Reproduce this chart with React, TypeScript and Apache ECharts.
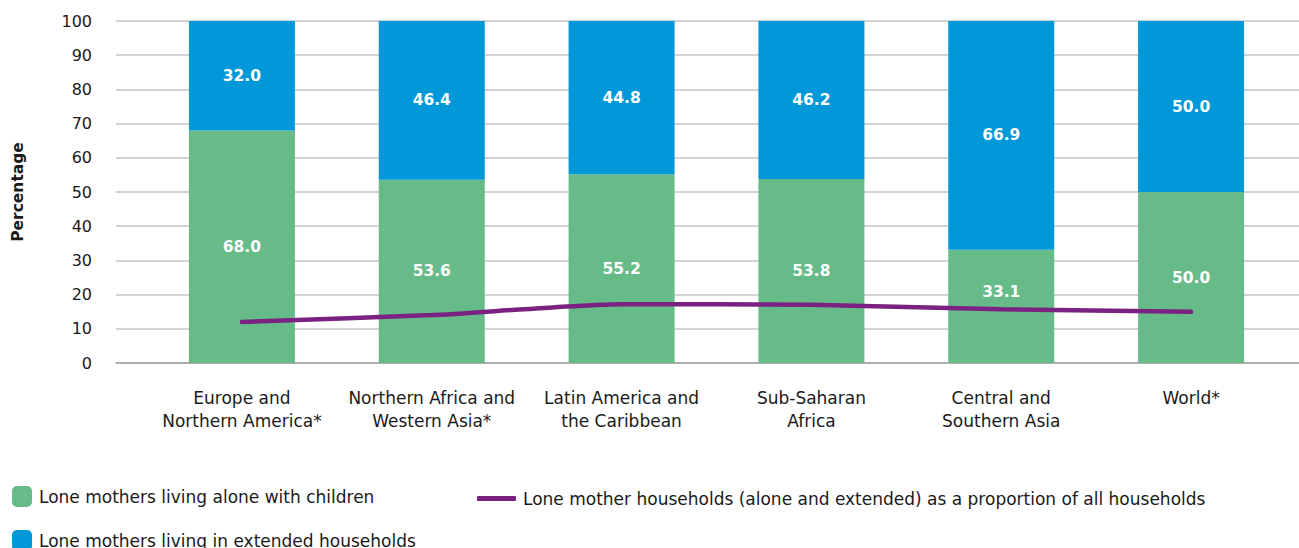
import React, { useEffect, useRef } from "react";
import * as echarts from "echarts";

const categories = [
  "Europe and\nNorthern America*",
  "Northern Africa and\nWestern Asia*",
  "Latin America and\nthe Caribbean",
  "Sub-Saharan\nAfrica",
  "Central and\nSouthern Asia",
  "World*",
];
const aloneValues = [68.0, 53.6, 55.2, 53.8, 33.1, 50.0];
const extendedValues = [32.0, 46.4, 44.8, 46.2, 66.9, 50.0];
const proportionValues = [12.0, 14.0, 17.2, 17.0, 15.7, 15.0];

const nameAlone = "Lone mothers living alone with children";
const nameExtended = "Lone mothers living in extended households";
const nameLine = "Lone mother households (alone and extended) as a proportion of all households";

const FONT = "DejaVu Sans";
const GREEN = "#67BB89";
const BLUE = "#0098D9";
const PURPLE = "#7B2182";
const TEXT = "#1a1a1a";

export default function App() {
  const ref = useRef<HTMLDivElement>(null);
  useEffect(() => {
    const chart = echarts.init(ref.current!, undefined, { renderer: "svg" });
    const labelStyle = {
      show: true,
      position: "inside",
      color: "#fff",
      fontWeight: "bold",
      fontSize: 15.5,
      fontFamily: FONT,
      formatter: (p: any) => Number(p.value).toFixed(1),
    };
    const legendText = { fontSize: 17, lineHeight: 21, color: TEXT, fontFamily: FONT };
    chart.setOption({
      animation: false,
      textStyle: { fontFamily: FONT },
      grid: [
        { left: 116, right: 0, top: 21, bottom: 185 },
        { left: 147, width: 1139, top: 21, bottom: 185 },
      ],
      xAxis: [
        {
          type: "value",
          gridIndex: 0,
          min: 0,
          max: 1,
          axisLabel: { show: false },
          axisTick: { show: false },
          splitLine: { show: false },
          axisLine: { show: true, lineStyle: { color: "#a0a0a0", width: 1.5 } },
        },
        {
          type: "category",
          gridIndex: 1,
          data: categories,
          axisLine: { show: false },
          axisTick: { show: false },
          axisLabel: {
            color: TEXT,
            fontSize: 17,
            fontFamily: FONT,
            lineHeight: 23,
            margin: 23,
            interval: 0,
          },
        },
      ],
      yAxis: [
        {
          type: "value",
          gridIndex: 0,
          min: 0,
          max: 100,
          interval: 10,
          name: "Percentage",
          nameLocation: "middle",
          nameGap: 90,
          nameTextStyle: { fontWeight: "bold", fontSize: 15.5, color: TEXT, fontFamily: FONT },
          axisLine: { show: false },
          axisTick: { show: false },
          axisLabel: { color: TEXT, fontSize: 16, fontFamily: FONT, margin: 24 },
          splitLine: { show: true, lineStyle: { color: "#c4c4c4", width: 1.5 } },
        },
        {
          type: "value",
          gridIndex: 1,
          min: 0,
          max: 100,
          interval: 10,
          show: false,
          splitLine: { show: false },
        },
      ],
      legend: [
        {
          data: [nameAlone],
          left: 12,
          top: 486,
          padding: 0,
          itemWidth: 20,
          itemHeight: 21,
          textStyle: { ...legendText, padding: [0, 0, 0, 2] },
        },
        {
          data: [{ name: nameLine, icon: "roundRect" }],
          left: 477,
          top: 488,
          padding: 0,
          itemWidth: 39,
          itemHeight: 5,
          textStyle: { ...legendText, padding: [0, 0, 0, 2] },
        },
        {
          data: [nameExtended],
          left: 12,
          top: 530,
          padding: 0,
          itemWidth: 20,
          itemHeight: 21,
          textStyle: { ...legendText, padding: [0, 0, 0, 2] },
        },
      ],
      series: [
        {
          name: nameAlone,
          type: "bar",
          xAxisIndex: 1,
          yAxisIndex: 1,
          stack: "s",
          barWidth: 106,
          data: aloneValues.map((v, i) =>
            i === 4 ? { value: v, label: { offset: [0, -14] } } : v
          ),
          itemStyle: { color: GREEN },
          label: labelStyle,
        },
        {
          name: nameExtended,
          type: "bar",
          xAxisIndex: 1,
          yAxisIndex: 1,
          stack: "s",
          barWidth: 106,
          data: extendedValues,
          itemStyle: { color: BLUE },
          label: labelStyle,
        },
        {
          name: nameLine,
          type: "line",
          xAxisIndex: 1,
          yAxisIndex: 1,
          data: proportionValues,
          symbol: "none",
          smooth: 0.2,
          lineStyle: { color: PURPLE, width: 4.5, cap: "round" },
          itemStyle: { color: PURPLE },
        },
      ],
    });
    return () => chart.dispose();
  }, []);
  return (
    <div
      ref={ref}
      style={{ position: "absolute", left: 0, top: 0, width: 1299, height: 548 }}
    />
  );
}
